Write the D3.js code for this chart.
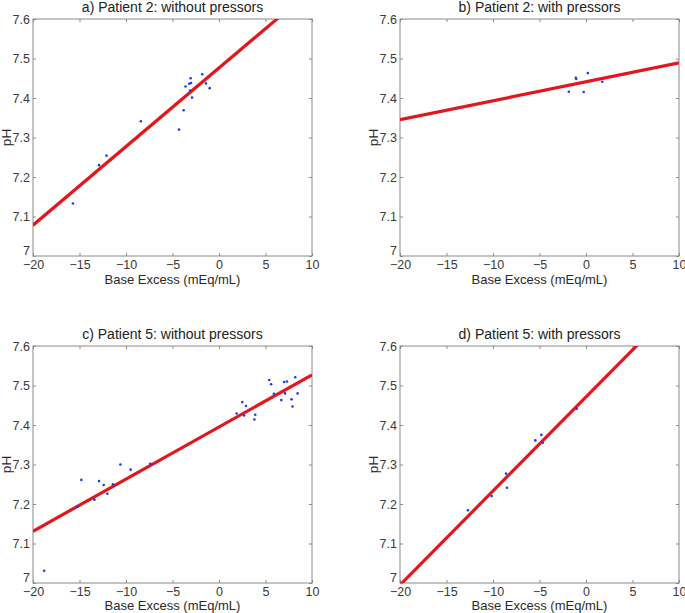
<!DOCTYPE html>
<html>
<head>
<meta charset="utf-8">
<script src="https://cdn.jsdelivr.net/npm/d3@7"></script>
<style>
  body { margin: 0; background: #fff; }
  svg { display: block; font-family: "Liberation Sans", Arial, Helvetica, sans-serif; }
  .tick-label { font-size: 12.5px; fill: #3a3a3a; }
  .axis-title { font-size: 13px; fill: #2a2a2a; }
  .plot-title { font-size: 14px; fill: #222; }
</style>
</head>
<body>
<div id="chart"></div>
<script>
// ---- data ----
const panelTitles = [
    "a) Patient 2: without pressors",
    "b) Patient 2: with pressors",
    "c) Patient 5: without pressors",
    "d) Patient 5: with pressors"
];

// Base excess (x) and pH (y) for each panel
const baseExcessA = [-15.7, -12.9, -12.1, -8.4, -4.3, -3.8, -3.6, -3.2, -3.05, -3.0, -3.1, -2.9, -1.8, -1.4, -1.0];
const phA         = [7.133, 7.230, 7.254, 7.341, 7.320, 7.369, 7.429, 7.436, 7.450, 7.438, 7.419, 7.401, 7.460, 7.437, 7.425];

const baseExcessB = [-1.85, -1.1, -1.05, 0.2, -0.25, 1.75];
const phB         = [7.416, 7.451, 7.448, 7.463, 7.415, 7.441];

const baseExcessC = [-18.8, -15.2, -14.8, -13.4, -12.9, -12.4, -12.0, -11.4, -10.6, -9.5, -7.4,
                     1.9, 2.5, 2.7, 2.9, 3.8, 3.9, 5.4, 5.6, 5.9, 6.7, 7.0, 7.3, 7.1, 7.8, 7.9, 8.2, 8.45];
const phC         = [7.031, 7.193, 7.261, 7.211, 7.258, 7.248, 7.226, 7.250, 7.300, 7.287, 7.302,
                     7.429, 7.458, 7.424, 7.448, 7.414, 7.426, 7.514, 7.503, 7.479, 7.463, 7.509, 7.510, 7.480, 7.465, 7.447, 7.521, 7.480];

const baseExcessD = [-12.7, -10.15, -8.6, -8.5, -5.45, -4.8, -4.65, -1.0];
const phD         = [7.184, 7.220, 7.277, 7.241, 7.361, 7.375, 7.355, 7.441];

// linear fits: pH = intercept + slope * BE
const fitSlopes     = [0.0199, 0.0048, 0.0132, 0.0238];
const fitIntercepts = [7.476, 7.441, 7.395, 7.471];

const xTicks = [-20, -15, -10, -5, 0, 5, 10];
const yTicks = [7, 7.1, 7.2, 7.3, 7.4, 7.5, 7.6];

const pointSets = [
    [baseExcessA, phA],
    [baseExcessB, phB],
    [baseExcessC, phC],
    [baseExcessD, phD]
];

// ---- layout ----
const width = 685;
const height = 613;
const plotW = 279;
const plotH = 237;
const lefts = [33, 400];
const tops = [19, 346];

const svg = d3.select('#chart')
    .append('svg')
    .attr('width', width)
    .attr('height', height);

const x = d3.scaleLinear().domain([-20, 10]).range([0, plotW]);
const y = d3.scaleLinear().domain([7, 7.6]).range([plotH, 0]);

panelTitles.forEach((title, i) => {
    const left = lefts[i % 2];
    const top = tops[Math.floor(i / 2)];
    const g = svg.append('g').attr('transform', `translate(${left}, ${top})`);

    // clip for the fit line
    svg.append('clipPath').attr('id', 'clip' + i)
        .append('rect').attr('width', plotW).attr('height', plotH);

    // inward ticks on all four sides
    const tickLen = 3;
    const axisColor = '#8a8a8a';

    const bottom = g.append('g').attr('transform', `translate(0, ${plotH})`)
        .call(d3.axisBottom(x).tickValues(xTicks).tickSizeInner(-tickLen).tickSizeOuter(0).tickPadding(4).tickFormat(d3.format('d')));
    const topAx = g.append('g')
        .call(d3.axisTop(x).tickValues(xTicks).tickSizeInner(-tickLen).tickSizeOuter(0).tickFormat(''));
    const leftAx = g.append('g')
        .call(d3.axisLeft(y).tickValues(yTicks).tickSizeInner(-tickLen).tickSizeOuter(0).tickPadding(3)
            .tickFormat(d => d === 7 ? '7' : d3.format('.1f')(d)));
    const rightAx = g.append('g').attr('transform', `translate(${plotW}, 0)`)
        .call(d3.axisRight(y).tickValues(yTicks).tickSizeInner(-tickLen).tickSizeOuter(0).tickFormat(''));

    [bottom, topAx, leftAx, rightAx].forEach(ax => {
        ax.select('.domain').remove();
        ax.selectAll('line').attr('stroke', axisColor);
        ax.selectAll('text').attr('class', 'tick-label').attr('font-family', null).attr('font-size', null);
    });

    // the bottom "7" sits a little above its tick, as in the original
    leftAx.selectAll('.tick').filter(d => d === 7).select('text').attr('dy', '-0.1em');

    g.append('rect')
        .attr('width', plotW)
        .attr('height', plotH)
        .attr('fill', 'none')
        .attr('stroke', axisColor)
        .attr('stroke-width', 1);

    // fit line
    const fit = x.domain().map(v => [v, fitIntercepts[i] + fitSlopes[i] * v]);
    g.append('path')
        .datum(fit)
        .attr('clip-path', `url(#clip${i})`)
        .attr('fill', 'none')
        .attr('stroke', '#e3161b')
        .attr('stroke-width', 3.2)
        .attr('d', d3.line().x(d => x(d[0])).y(d => y(d[1])));

    // points
    const [xs, ys] = pointSets[i];
    g.selectAll('.pt')
        .data(xs.map((v, k) => ({ be: v, ph: ys[k] })))
        .enter()
        .append('circle')
        .attr('class', 'pt')
        .attr('cx', d => x(d.be))
        .attr('cy', d => y(d.ph))
        .attr('r', 1.3)
        .attr('fill', '#1d3ce8');

    // titles
    g.append('text')
        .attr('class', 'plot-title')
        .attr('x', plotW / 2)
        .attr('y', -7)
        .attr('text-anchor', 'middle')
        .text(title);

    g.append('text')
        .attr('class', 'axis-title')
        .attr('x', plotW / 2)
        .attr('y', plotH + (i < 2 ? 28 : 27))
        .attr('text-anchor', 'middle')
        .text('Base Excess (mEq/mL)');

    g.append('text')
        .attr('class', 'axis-title')
        .style('font-size', '13.5px')
        .attr('transform', `translate(${-22}, ${plotH / 2}) rotate(-90)`)
        .attr('text-anchor', 'middle')
        .text('pH');
});
</script>
</body>
</html>
